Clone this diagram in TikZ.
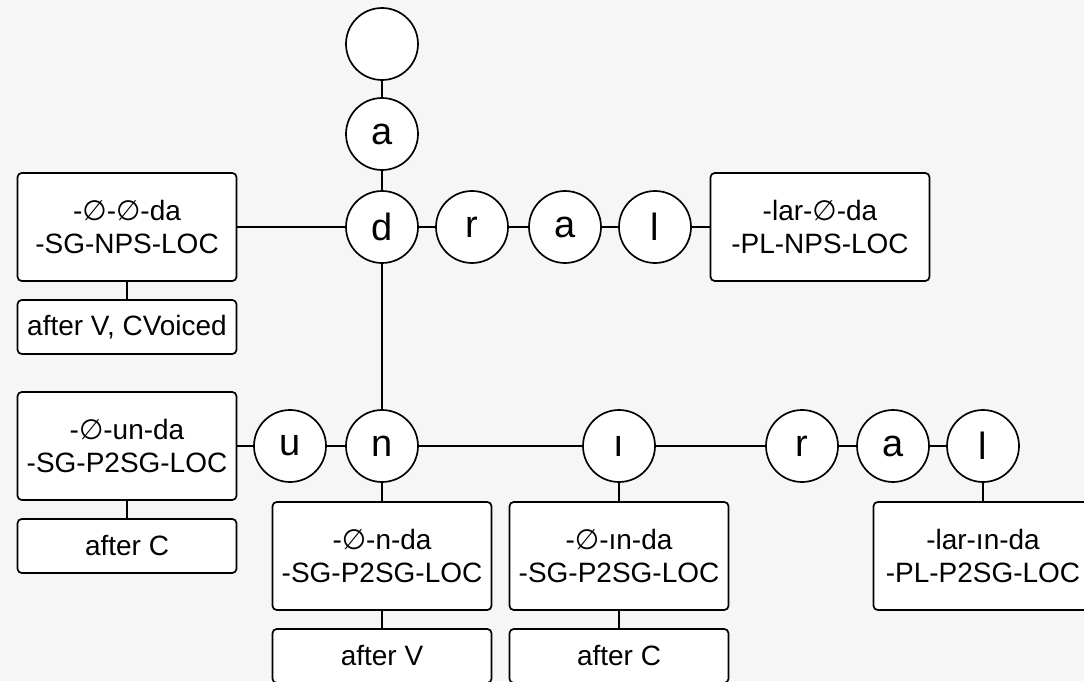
\documentclass[tikz,border=0pt]{standalone}
\usepackage{fontspec}
\setmainfont{Liberation Sans}
\newfontfamily\nulfont{DejaVu Sans}
\newcommand{\nul}{{\nulfont ∅}}
\usetikzlibrary{positioning}

\begin{document}
\begin{tikzpicture}[
  seg/.style={circle, draw, fill=white, line width=1.2pt, minimum size=1.8cm, inner sep=0pt,
    font=\fontsize{27}{30}\selectfont},
  gloss/.style={draw, fill=white, rounded corners=3pt, line width=1.2pt, align=center,
    minimum width=5.475cm, minimum height=2.7cm, font=\fontsize{19.9}{23.5}\selectfont},
  cond/.style={draw, fill=white, rounded corners=3pt, line width=1.2pt,
    minimum width=5.475cm, minimum height=1.35cm, font=\fontsize{19.9}{23.5}\selectfont},
  link/.style={line width=1.2pt}
]
  % Page
  \useasboundingbox (0,0) rectangle (27.1,17.025);
  \fill[gray!7] (0,0) rectangle (27.1,17.025);
  \clip (0,0) rectangle (27.1,17.025);

  % Upper path: d-r-a-l
  \node[seg] (root) at (9.55,15.925) {};
  \node[seg] (a1) at (9.55,13.675) {a};
  \node[seg] (d) at (9.55,11.35) {d};
  \node[seg] (r1) at (11.8,11.35) {r};
  \node[seg] (a2) at (14.125,11.35) {a};
  \node[seg] (l1) at (16.375,11.35) {l};

  % Lower path: u-n-ı-r-a-l
  \node[seg] (u) at (7.25,5.875) {u};
  \node[seg] (n) at (9.55,5.875) {n};
  \node[seg] (i) at (15.475,5.875) {ı};
  \node[seg] (r2) at (20.05,5.875) {r};
  \node[seg] (a3) at (22.325,5.875) {a};
  \node[seg] (l2) at (24.575,5.875) {l};

  % Glosses and conditions
  \node[gloss] (sgnps) at (3.175,11.35) {-\nul-\nul-da\\-SG-NPS-LOC};
  \node[cond] (sgnpsc) at (3.175,8.85) {after V, CVoiced};
  \node[gloss] (plnps) at (20.5,11.35) {-lar-\nul-da\\-PL-NPS-LOC};
  \node[gloss] (sgun) at (3.175,5.875) {-\nul-un-da\\-SG-P2SG-LOC};
  \node[cond] (sgunc) at (3.175,3.375) {after C};
  \node[gloss] (sgn) at (9.55,3.125) {-\nul-n-da\\-SG-P2SG-LOC};
  \node[cond] (sgnc) at (9.55,0.625) {after V};
  \node[gloss] (sgin) at (15.475,3.125) {-\nul-ın-da\\-SG-P2SG-LOC};
  \node[cond] (sginc) at (15.475,0.625) {after C};
  \node[gloss] (plin) at (24.575,3.125) {-lar-ın-da\\-PL-P2SG-LOC};

  % Links
  \draw[link] (root) -- (a1);
  \draw[link] (a1) -- (d);
  \draw[link] (d) -- (r1);
  \draw[link] (r1) -- (a2);
  \draw[link] (a2) -- (l1);
  \draw[link] (l1) -- (plnps);
  \draw[link] (d) -- (sgnps);
  \draw[link] (sgnps) -- (sgnpsc);
  \draw[link] (d) -- (n);
  \draw[link] (n) -- (u);
  \draw[link] (u) -- (sgun);
  \draw[link] (sgun) -- (sgunc);
  \draw[link] (n) -- (i);
  \draw[link] (i) -- (r2);
  \draw[link] (r2) -- (a3);
  \draw[link] (a3) -- (l2);
  \draw[link] (n) -- (sgn);
  \draw[link] (sgn) -- (sgnc);
  \draw[link] (i) -- (sgin);
  \draw[link] (sgin) -- (sginc);
  \draw[link] (l2) -- (plin);
\end{tikzpicture}
\end{document}
